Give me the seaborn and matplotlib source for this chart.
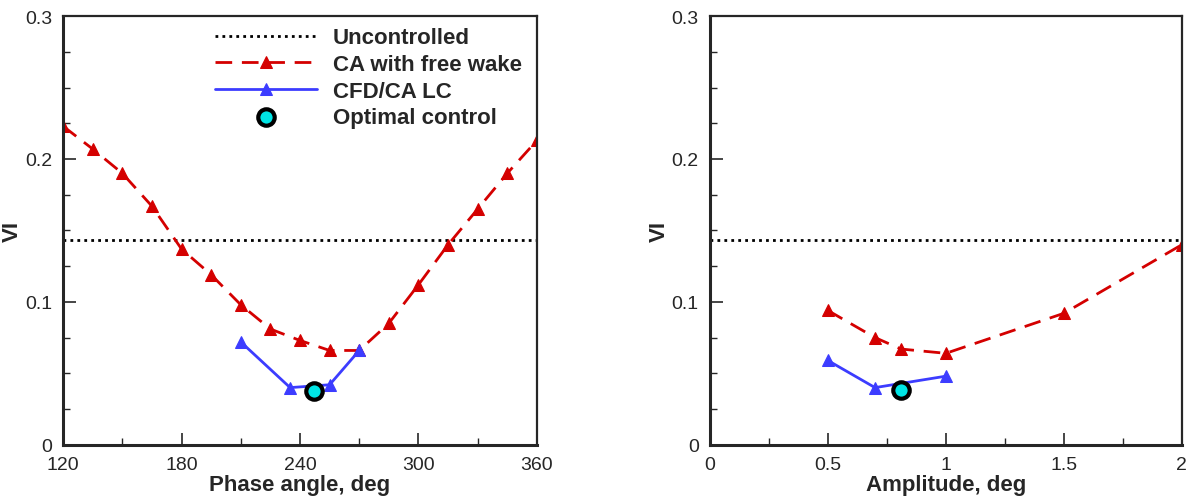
import numpy as np
import pandas as pd
import matplotlib
matplotlib.use("Agg")
import matplotlib.pyplot as plt
import seaborn as sns
from matplotlib.ticker import MultipleLocator

# ---- data ----
uncontrolled_vi = 0.143

phase_ca = [120, 135, 150, 165, 180, 195, 210, 225, 240, 255, 270, 285, 300, 315, 330, 345, 360]
vi_phase_ca = [0.223, 0.207, 0.190, 0.167, 0.137, 0.119, 0.098, 0.081, 0.073, 0.066, 0.066,
               0.085, 0.112, 0.140, 0.165, 0.190, 0.213]
phase_cfd = [210, 235, 255, 270]
vi_phase_cfd = [0.072, 0.040, 0.042, 0.066]
phase_opt = [247]
vi_phase_opt = [0.0375]

amp_ca = [0.5, 0.7, 0.81, 1.0, 1.5, 2.0]
vi_amp_ca = [0.094, 0.075, 0.067, 0.064, 0.092, 0.140]
amp_cfd = [0.5, 0.7, 1.0]
vi_amp_cfd = [0.059, 0.040, 0.048]
amp_opt = [0.81]
vi_amp_opt = [0.038]

sns.set_style("ticks")
plt.rcParams['font.family'] = ['Liberation Sans', 'DejaVu Sans']

red = "#d40000"
blue = "#3c3cff"

fig = plt.figure(figsize=(11.89, 5.02), dpi=100)
ax1 = fig.add_axes([0.053, 0.112, 0.3986, 0.854])
ax2 = fig.add_axes([0.597, 0.112, 0.397, 0.854])


def draw(ax, x_ca, y_ca, x_cfd, y_cfd, x_opt, y_opt, xlim):
    ax.axhline(uncontrolled_vi, color="black", ls=(0, (1, 1.5)), lw=2, label="Uncontrolled")
    sns.lineplot(x=x_ca, y=y_ca, ax=ax, color=red, lw=2, marker="^", markersize=9,
                 markeredgecolor=red, label="CA with free wake")
    ax.lines[-1].set_dashes([6, 3.5])
    sns.lineplot(x=x_cfd, y=y_cfd, ax=ax, color=blue, lw=2, marker="^", markersize=9,
                 markeredgecolor=blue, label="CFD/CA LC")
    sns.scatterplot(x=x_opt, y=y_opt, ax=ax, s=140, color="#00e5e5", edgecolor="black",
                    linewidth=3, zorder=5, label="Optimal control")
    ax.set_xlim(xlim)
    ax.set_ylim(0, 0.3)
    ax.yaxis.set_major_locator(MultipleLocator(0.1))
    ax.yaxis.set_minor_locator(MultipleLocator(0.025))
    ax.yaxis.set_major_formatter(matplotlib.ticker.FuncFormatter(lambda v, p: f"{v:g}"))
    ax.xaxis.set_major_formatter(matplotlib.ticker.FuncFormatter(lambda v, p: f"{v:g}"))
    ax.tick_params(which="major", direction="in", length=9, width=1.2, labelsize=14, pad=8)
    ax.tick_params(which="minor", direction="in", length=5, width=1)
    for side in ["bottom", "left"]:
        ax.spines[side].set_linewidth(2.2)
    for side in ["top", "right"]:
        ax.spines[side].set_linewidth(1.6)
    ax.set_ylabel("VI", fontsize=16, fontweight="bold")
    ax.yaxis.set_label_coords(-0.085, 0.5)


draw(ax1, phase_ca, vi_phase_ca, phase_cfd, vi_phase_cfd, phase_opt, vi_phase_opt, (120, 360))
ax1.xaxis.set_major_locator(MultipleLocator(60))
ax1.xaxis.set_minor_locator(MultipleLocator(30))
ax1.set_xlabel("Phase angle, deg", fontsize=16, fontweight="bold", labelpad=1)
ax1.legend(loc="upper right", bbox_to_anchor=(1.01, 1.02), frameon=False, handlelength=4.6,
           handletextpad=0.7, labelspacing=0.25, prop={"weight": "bold", "size": 16})

draw(ax2, amp_ca, vi_amp_ca, amp_cfd, vi_amp_cfd, amp_opt, vi_amp_opt, (0, 2))
ax2.xaxis.set_major_locator(MultipleLocator(0.5))
ax2.xaxis.set_minor_locator(MultipleLocator(0.25))
ax2.set_xlabel("Amplitude, deg", fontsize=16, fontweight="bold", labelpad=1)
ax2.get_legend().remove()

fig.savefig("out.png", dpi=100)
